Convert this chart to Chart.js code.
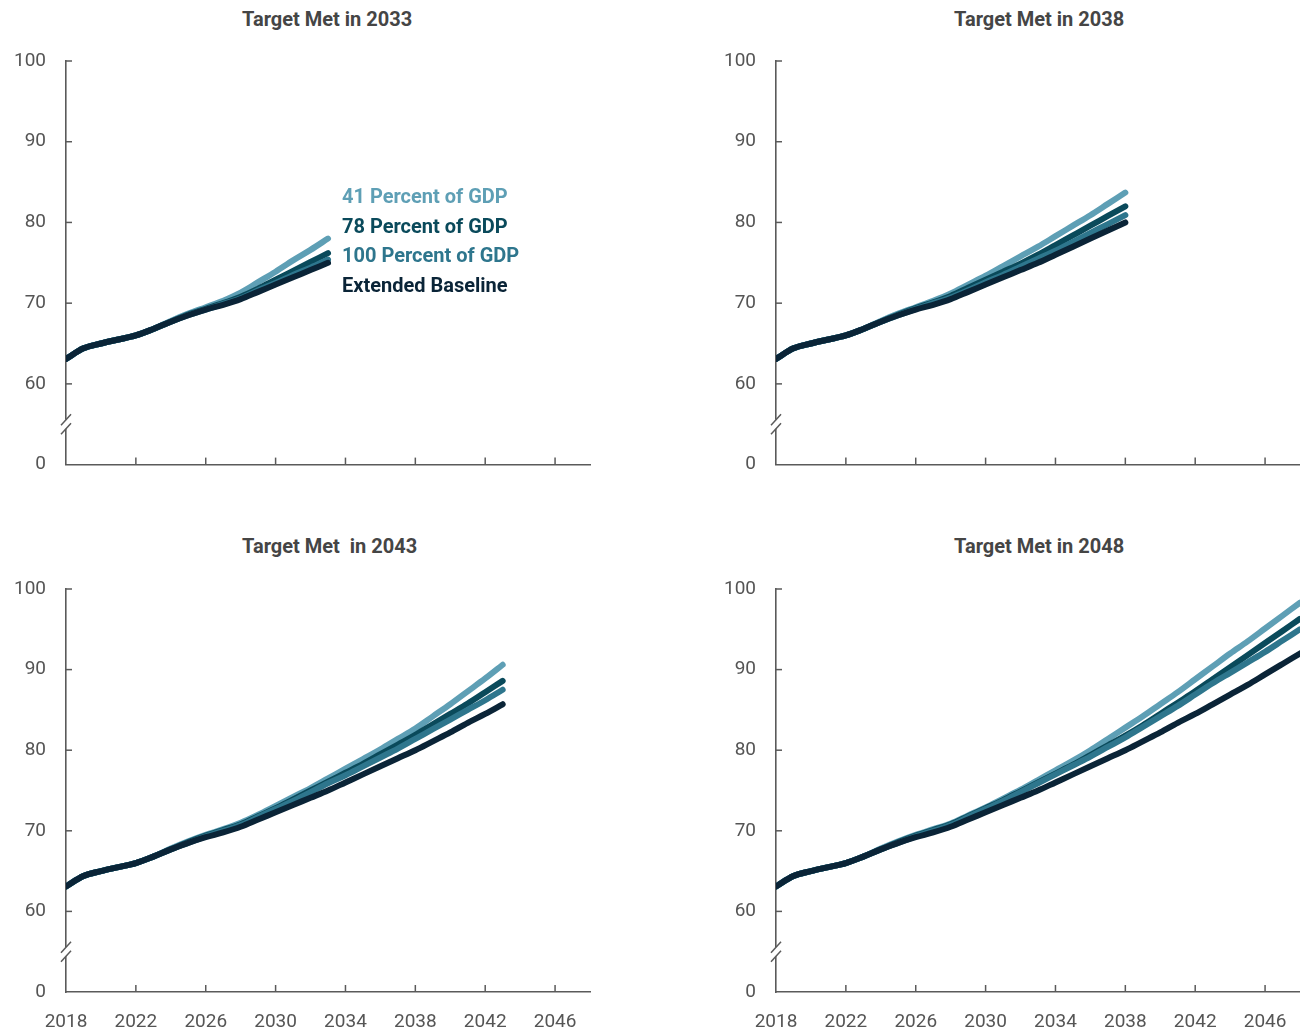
<!DOCTYPE html>
<html>
<head>
<meta charset="utf-8">
<script src="https://cdn.jsdelivr.net/npm/chart.js@4.4.1/dist/chart.umd.min.js"></script>
<style>
  body { margin: 0; background: #fff; width: 1300px; height: 1031px; overflow: hidden; position: relative; font-family: Roboto, "Noto Sans", sans-serif; }
  canvas { position: absolute; }
  .title { position: absolute; font-size: 20px; font-weight: 700; color: #454545; line-height: 24px; white-space: pre; }
  .legend { position: absolute; left: 342px; top: 182px; font-size: 20px; font-weight: 700; line-height: 29.6px; white-space: nowrap; }
</style>
</head>
<body>
<div class="title" style="left:242px; top:7px;" id="t1"></div>
<div class="title" style="left:954px; top:7px;" id="t2"></div>
<div class="title" style="left:242px; top:534px;" id="t3"></div>
<div class="title" style="left:954px; top:534px;" id="t4"></div>

<canvas id="c1" width="600" height="496" style="left:0; top:0;"></canvas>
<canvas id="c2" width="590" height="496" style="left:710px; top:0;"></canvas>
<canvas id="c3" width="600" height="503" style="left:0; top:528px;"></canvas>
<canvas id="c4" width="590" height="503" style="left:710px; top:528px;"></canvas>

<div class="legend" id="legend"></div>

<script>
/* ====== data ===== */
const years = [2018, 2019, 2020, 2021, 2022, 2023, 2024, 2025, 2026, 2027, 2028, 2029, 2030,
  2031, 2032, 2033, 2034, 2035, 2036, 2037, 2038, 2039, 2040, 2041, 2042, 2043, 2044, 2045,
  2046, 2047, 2048];
const xTicks = [2018, 2022, 2026, 2030, 2034, 2038, 2042, 2046];
// 50 sits below the axis break and is labelled 0
const yTicks = [50, 60, 70, 80, 90, 100];

const seriesNames = ['41 Percent of GDP', '78 Percent of GDP', '100 Percent of GDP', 'Extended Baseline'];
const seriesColors = ['#5e9fb5', '#0a4a5b', '#2e768d', '#0a2437'];
const panelTitles = ['Target Met in 2033', 'Target Met in 2038', 'Target Met  in 2043', 'Target Met in 2048'];

const baseline = [63.1, 64.4, 65.0, 65.5, 66.0, 66.8, 67.7, 68.5, 69.2, 69.8, 70.5, 71.4, 72.3,
  73.2, 74.1, 75.0, 76.0, 77.0, 78.0, 79.0, 80.0, 81.1, 82.2, 83.4, 84.5, 85.7, 86.9, 88.1,
  89.4, 90.7, 92.0];

const met2033_41 = [63.1, 64.4, 65.0, 65.5, 66.0, 66.8, 67.8, 68.7, 69.5, 70.3, 71.3, 72.6, 73.9, 75.3, 76.6, 78.0];
const met2033_78 = [63.1, 64.4, 65.0, 65.5, 66.0, 66.8, 67.7, 68.6, 69.3, 70.0, 70.8, 71.8, 72.9, 74.0, 75.1, 76.2];
const met2033_100 = [63.1, 64.4, 65.0, 65.5, 66.0, 66.8, 67.7, 68.5, 69.2, 69.9, 70.6, 71.6, 72.5, 73.5, 74.4, 75.4];

const met2038_41 = [63.1, 64.4, 65.0, 65.5, 66.0, 66.8, 67.8, 68.7, 69.5, 70.3, 71.2, 72.3, 73.4, 74.6, 75.8,
  77.0, 78.3, 79.6, 80.9, 82.3, 83.7];
const met2038_78 = [63.1, 64.4, 65.0, 65.5, 66.0, 66.8, 67.7, 68.6, 69.4, 70.1, 70.9, 71.9, 72.9, 73.9, 74.9,
  76.0, 77.2, 78.4, 79.6, 80.8, 82.0];
const met2038_100 = [63.1, 64.4, 65.0, 65.5, 66.0, 66.8, 67.7, 68.5, 69.3, 70.0, 70.7, 71.6, 72.6, 73.5, 74.5,
  75.5, 76.5, 77.6, 78.7, 79.8, 80.9];

const met2043_41 = [63.1, 64.4, 65.0, 65.5, 66.0, 66.8, 67.8, 68.7, 69.5, 70.2, 71.0, 72.0, 73.1, 74.2, 75.3,
  76.5, 77.7, 78.9, 80.1, 81.4, 82.7, 84.2, 85.7, 87.3, 88.9, 90.6];
const met2043_78 = [63.1, 64.4, 65.0, 65.5, 66.0, 66.8, 67.7, 68.6, 69.4, 70.1, 70.8, 71.8, 72.8, 73.9, 75.0,
  76.1, 77.2, 78.3, 79.5, 80.7, 81.9, 83.2, 84.5, 85.8, 87.2, 88.6];
const met2043_100 = [63.1, 64.4, 65.0, 65.5, 66.0, 66.8, 67.7, 68.5, 69.3, 70.0, 70.7, 71.7, 72.7, 73.7, 74.8,
  75.9, 76.9, 78.0, 79.1, 80.2, 81.4, 82.6, 83.8, 85.0, 86.2, 87.5];

const met2048_41 = [63.1, 64.4, 65.0, 65.5, 66.0, 66.8, 67.8, 68.7, 69.5, 70.2, 70.9, 71.9, 72.9, 74.0, 75.1,
  76.3, 77.5, 78.7, 80.0, 81.4, 82.8, 84.2, 85.7, 87.2, 88.8, 90.4, 92.0, 93.5, 95.1, 96.7, 98.3];
const met2048_78 = [63.1, 64.4, 65.0, 65.5, 66.0, 66.8, 67.7, 68.6, 69.4, 70.1, 70.8, 71.8, 72.8, 73.8, 74.9,
  76.0, 77.1, 78.2, 79.4, 80.6, 81.8, 83.1, 84.5, 85.9, 87.3, 88.8, 90.3, 91.8, 93.3, 94.8, 96.3];
const met2048_100 = [63.1, 64.4, 65.0, 65.5, 66.0, 66.8, 67.7, 68.5, 69.3, 70.0, 70.7, 71.7, 72.7, 73.7, 74.8,
  75.9, 77.0, 78.1, 79.2, 80.4, 81.6, 82.9, 84.2, 85.5, 86.9, 88.3, 89.6, 90.9, 92.2, 93.6, 95.0];

/* ====== titles + legend ===== */
['t1', 't2', 't3', 't4'].forEach((id, i) => {
  document.getElementById(id).textContent = panelTitles[i];
});
const legendBox = document.getElementById('legend');
seriesNames.forEach((name, i) => {
  const row = document.createElement('div');
  row.textContent = name;
  row.style.color = seriesColors[i];
  legendBox.appendChild(row);
});

/* ====== axes: inward ticks and the broken y axis ===== */
const axisInk = '#5a5a5a';
const axisDecor = {
  id: 'axisDecor',
  afterDraw(chart) {
    const {ctx, scales: {x, y}} = chart;
    const line = (x1, y1, x2, y2) => { ctx.beginPath(); ctx.moveTo(x1, y1); ctx.lineTo(x2, y2); ctx.stroke(); };
    ctx.save();
    ctx.strokeStyle = axisInk;
    ctx.lineWidth = 1.5;
    yTicks.slice(1).forEach(v => {
      const py = y.getPixelForValue(v);
      line(x.left, py, x.left + 6, py);
    });
    xTicks.slice(1).forEach(v => {
      const px = x.getPixelForValue(v);
      line(px, y.bottom, px, y.bottom - 7);
    });
    // break marks between 0 and 60
    const mid = y.getPixelForValue(55);
    ctx.fillStyle = '#fff';
    ctx.fillRect(x.left - 2, mid - 4.5, 4, 9);
    [mid - 4.5, mid + 4.5].forEach(s => line(x.left - 5, s + 5.5, x.left + 5, s - 5.5));
    ctx.restore();
  }
};

const tickFont = {family: 'Roboto', size: 19};

function panelChart(canvasId, scenarios, showYears, rightPad) {
  const n = scenarios[0].length;
  const all = [...scenarios, baseline.slice(0, n)];
  // baseline on top, 41 percent underneath
  const datasets = [3, 2, 1, 0].map(i => ({
    label: seriesNames[i],
    data: all[i].map((v, k) => ({x: years[k], y: v})),
    borderColor: seriesColors[i],
    backgroundColor: seriesColors[i],
  }));

  return new Chart(document.getElementById(canvasId), {
    type: 'line',
    data: {datasets},
    options: {
      responsive: false,
      animation: false,
      devicePixelRatio: 1,
      layout: {padding: {top: 61, right: rightPad, left: 0, bottom: 0}},
      elements: {
        point: {radius: 0},
        line: {borderWidth: 6, borderCapStyle: 'round', borderJoinStyle: 'round', cubicInterpolationMode: 'monotone'}
      },
      plugins: {legend: {display: false}, tooltip: {enabled: false}},
      scales: {
        x: {
          type: 'linear', min: 2018, max: 2048,
          afterBuildTicks: s => { s.ticks = xTicks.map(v => ({value: v})); },
          afterFit: s => {
            s.height = showYears ? 39 : 16;
            // last label (2046) sits well inside the axis, so no extra room is needed
            s.paddingLeft = 0;
            s.paddingRight = 0;
          },
          grid: {display: false, drawTicks: false},
          border: {display: true, color: axisInk, width: 1.6},
          ticks: {display: showYears, padding: 19, color: '#555', font: tickFont, maxRotation: 0, autoSkip: false,
            callback: v => String(v)}
        },
        y: {
          min: 50, max: 100,
          afterBuildTicks: s => { s.ticks = yTicks.map(v => ({value: v})); },
          afterFit: s => { s.width = 66; },
          grid: {display: false, drawTicks: false},
          border: {display: true, color: axisInk, width: 1.6},
          ticks: {padding: 20, color: '#555', font: tickFont, callback: v => (v === 50 ? '0' : String(v))}
        }
      }
    },
    plugins: [axisDecor]
  });
}

panelChart('c1', [met2033_41, met2033_78, met2033_100], false, 10);
panelChart('c2', [met2038_41, met2038_78, met2038_100], false, 0);
panelChart('c3', [met2043_41, met2043_78, met2043_100], true, 10);
panelChart('c4', [met2048_41, met2048_78, met2048_100], true, 0);
</script>
</body>
</html>
